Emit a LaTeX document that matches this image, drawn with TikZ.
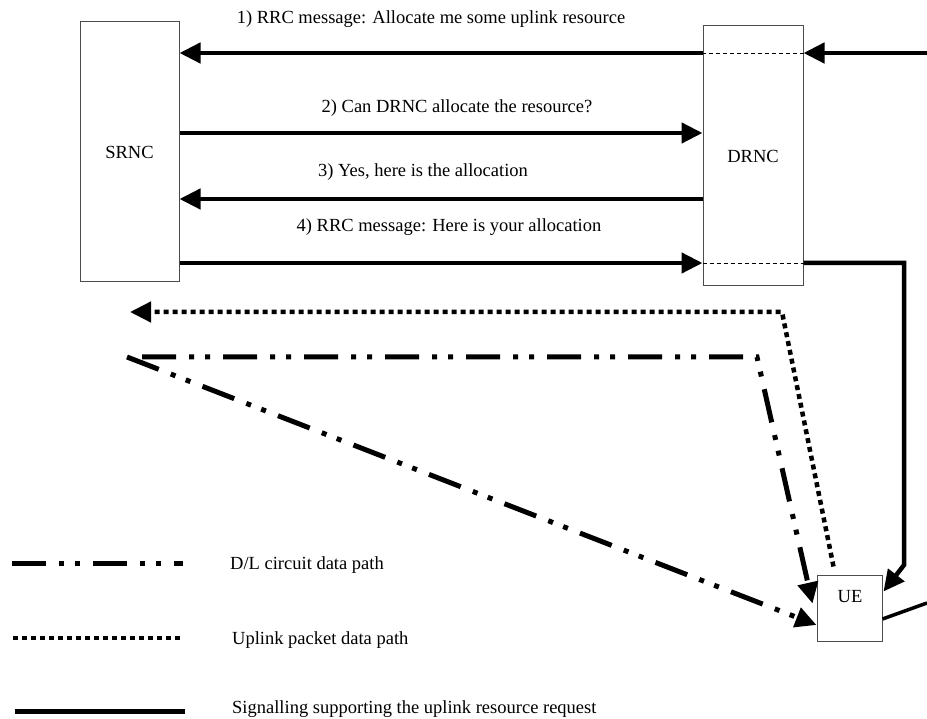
\documentclass[tikz,border=0pt]{standalone}
\usepackage{fontspec}
\setmainfont{Liberation Serif}
\usetikzlibrary{arrows.meta,calc}
\begin{document}
\begin{tikzpicture}[x=1pt,y=-1pt,
  box/.style={draw=black!70, line width=1pt, inner sep=0pt, fill=white},
  lbl/.style={font=\fontsize{18.5}{22}\selectfont, inner sep=0pt},
  sig/.style={line width=4.5pt},
  tip/.style={-{Triangle[length=21pt,width=20pt]}},
  thru/.style={line width=0.8pt, dash pattern=on 4pt off 3pt},
  dldata/.style={line width=5pt, dash pattern=on 34pt off 13pt on 5pt off 11pt on 5pt off 13pt},
  ulpacket/.style={line width=4.5pt, dash pattern=on 5pt off 4pt}
]
\useasboundingbox (0,0) rectangle (927,719);

% network elements
\node[box, lbl, minimum width=99pt, minimum height=260pt] (srnc) at (129.5,152) {SRNC};
\node[box, lbl, minimum width=100pt, minimum height=260pt] (drnc) at (753,156) {DRNC};
\node[box, minimum width=65pt, minimum height=66pt] (ue) at (849.5,608) {};
\node[lbl, anchor=base] (uetext) at (850,602) {UE};

% message levels and free ends
\coordinate (y1) at (0,53);
\coordinate (y2) at (0,133);
\coordinate (y3) at (0,199);
\coordinate (y4) at (0,263);
\coordinate (r1) at (927,53);
\coordinate (k4) at (904,565);
\coordinate (r5) at (927,603);

% signalling exchange
\draw[sig,tip] (r1) -- (drnc.east |- y1);
\draw[thru] (drnc.east |- y1) -- (drnc.west |- y1);
\draw[sig,tip] (drnc.west |- y1) -- (srnc.east |- y1);
\draw[sig,tip] (srnc.east |- y2) -- (drnc.west |- y2);
\draw[sig,tip] (drnc.west |- y3) -- (srnc.east |- y3);
\draw[sig,tip] (srnc.east |- y4) -- (drnc.west |- y4);
\draw[thru] (drnc.west |- y4) -- (drnc.east |- y4);
\draw[sig,tip] (drnc.east |- y4) -| (k4) -- ($(ue.north east)+(1,17)$);
\draw[line width=3.5pt] ($(ue.east)+(0,11)$) -- (r5);

\node[lbl, anchor=base] (m1) at (431,24) {1) RRC message: Allocate me some uplink resource};
\node[lbl, anchor=base] (m2) at (457,113) {2) Can DRNC allocate the resource?};
\node[lbl, anchor=base] (m3) at (423,177) {3) Yes, here is the allocation};
\node[lbl, anchor=base] (m4) at (449,232) {4) RRC message: Here is your allocation};

% uplink packet data path
\coordinate (k2) at (782,312);
\coordinate (a2) at (130,312);
\draw[ulpacket,tip] ($(ue.north)+(-16,-8)$) -- (k2) -- (a2);

% downlink circuit data paths
\coordinate (d1) at (142,357);
\coordinate (k3) at (757,357);
\coordinate (d0) at (127,357);
\draw[dldata,tip] (d1) -- (k3) -- ($(ue.north west)+(-4,29)$);
\draw[dldata,tip] (d0) -- ($(ue.west)+(0,17)$);

% legend
\coordinate (la1) at (12,563);  \coordinate (lb1) at (183,563);
\coordinate (la2) at (13,638);  \coordinate (lb2) at (183,638);
\coordinate (la3) at (15,711);  \coordinate (lb3) at (185,711);
\draw[dldata] (la1) -- (lb1);
\draw[ulpacket] (la2) -- (lb2);
\draw[line width=5pt] (la3) -- (lb3);
\node[lbl, anchor=base west] (t1) at (230,569) {D/L circuit data path};
\node[lbl, anchor=base west] (t2) at (232,644) {Uplink packet data path};
\node[lbl, anchor=base west] (t3) at (232,713) {Signalling supporting the uplink resource request};
\end{tikzpicture}
\end{document}
